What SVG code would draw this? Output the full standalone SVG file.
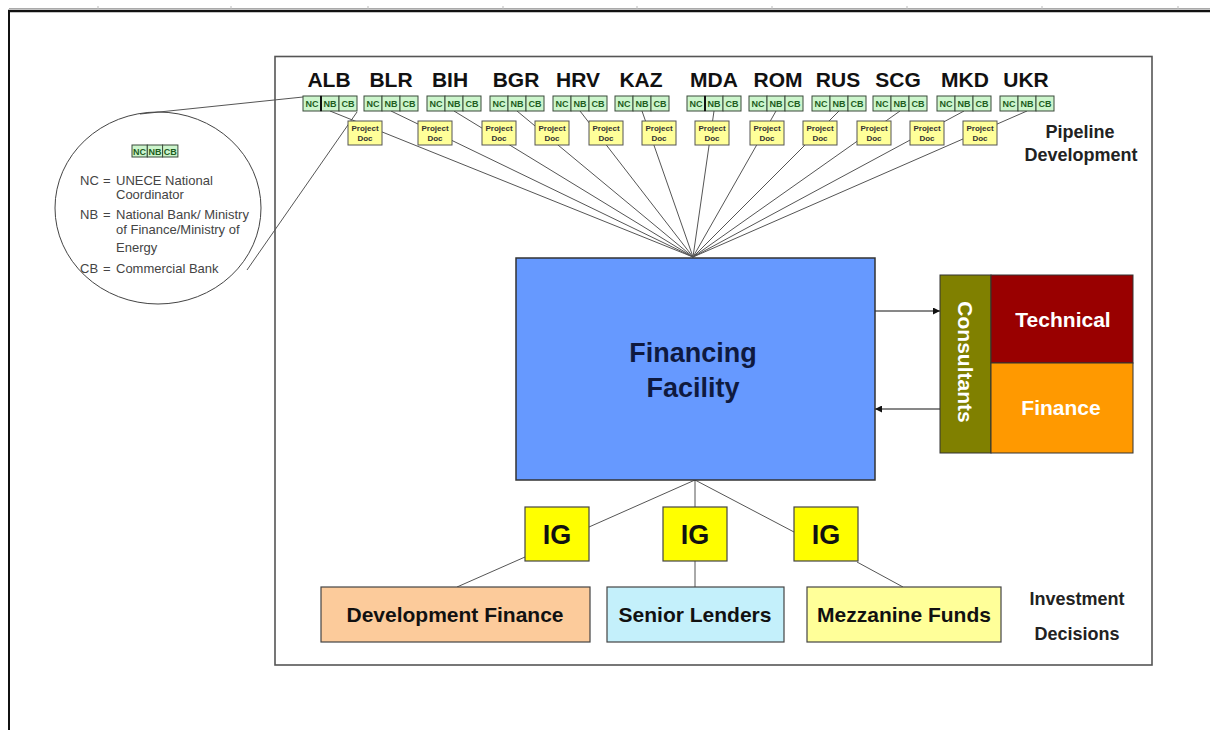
<svg xmlns="http://www.w3.org/2000/svg" width="1210" height="730" viewBox="0 0 1210 730">
<defs>
<marker id="ah" viewBox="0 0 10 10" refX="10" refY="5" markerWidth="7" markerHeight="7" orient="auto" markerUnits="userSpaceOnUse">
<path d="M0,0 L10,5 L0,10 z" fill="#111"/>
</marker>
<style>
text{font-family:"Liberation Sans",Arial,sans-serif}
.frame{fill:none;stroke:#555;stroke-width:1.6}
.ctry{font-size:21px;font-weight:bold;fill:#111;text-anchor:middle}
.cell{fill:#ccf5cc;stroke:#3a4a3a;stroke-width:1}
.ctxt{font-size:9px;fill:#1e5c1e;text-anchor:middle;font-weight:bold}
.doc{fill:#ffff99;stroke:#555;stroke-width:1}
.dtxt{font-size:8px;font-weight:bold;fill:#333;text-anchor:middle}
.fan{stroke:#555;stroke-width:1;fill:none}
.leg{font-size:13px;fill:#444}
.side{font-size:18px;font-weight:bold;fill:#222;text-anchor:middle}
.wt{font-size:21px;font-weight:bold;fill:#fff;text-anchor:middle}
.ig{fill:#ffff00;stroke:#444;stroke-width:1.2}
.igt{font-size:27px;font-weight:bold;fill:#111;text-anchor:middle}
.bx{stroke:#444;stroke-width:1.2}
.bt{font-size:21px;font-weight:bold;fill:#111;text-anchor:middle}
</style>
</defs>
<rect width="1210" height="730" fill="#fff"/>
<g id="page-border">
<line x1="9" y1="8.5" x2="1210" y2="8.5" stroke="#aaa" stroke-width="1"/>
<g stroke="#bbb" stroke-width="1"><line x1="98" y1="6" x2="98" y2="9"/><line x1="231" y1="6" x2="231" y2="9"/><line x1="368" y1="6" x2="368" y2="9"/><line x1="503" y1="6" x2="503" y2="9"/><line x1="637" y1="6" x2="637" y2="9"/><line x1="772" y1="6" x2="772" y2="9"/><line x1="907" y1="6" x2="907" y2="9"/><line x1="1042" y1="6" x2="1042" y2="9"/><line x1="1178" y1="6" x2="1178" y2="9"/></g>
<line x1="8" y1="11" x2="1210" y2="11" stroke="#111" stroke-width="2.5"/>
<line x1="9" y1="10" x2="9" y2="730" stroke="#111" stroke-width="2"/>
</g>
<rect class="frame" x="275" y="56.5" width="877" height="608.5"/>

<g id="connectors">
<g class="fan">
<line x1="330" y1="111" x2="693" y2="257"/>
<line x1="391" y1="111" x2="693" y2="257"/>
<line x1="454" y1="111" x2="693" y2="257"/>
<line x1="517" y1="111" x2="693" y2="257"/>
<line x1="580" y1="111" x2="693" y2="257"/>
<line x1="642" y1="111" x2="693" y2="257"/>
<line x1="714" y1="111" x2="693" y2="257"/>
<line x1="776" y1="111" x2="693" y2="257"/>
<line x1="839" y1="111" x2="693" y2="257"/>
<line x1="900" y1="111" x2="693" y2="257"/>
<line x1="964" y1="111" x2="693" y2="257"/>
<line x1="1027" y1="111" x2="693" y2="257"/>
<line x1="140" y1="114" x2="303" y2="97"/>
<line x1="247" y1="270" x2="357" y2="112"/>
<line x1="695" y1="480" x2="589" y2="527"/>
<line x1="695" y1="480" x2="695" y2="507"/>
<line x1="695" y1="480" x2="794" y2="532"/>
<line x1="525" y1="557" x2="457" y2="587"/>
<line x1="695" y1="561" x2="695" y2="587"/>
<line x1="857" y1="562" x2="903" y2="587"/>
</g>
<line x1="875" y1="311" x2="940" y2="311" stroke="#111" stroke-width="1" marker-end="url(#ah)"/>
<line x1="940" y1="409" x2="875" y2="409" stroke="#111" stroke-width="1" marker-end="url(#ah)"/>
</g>

<g id="legend-circle">
<ellipse cx="158" cy="208" rx="103" ry="96" fill="none" stroke="#444" stroke-width="1"/>
<rect class="cell" x="132" y="145" width="15.3" height="12"/>
<rect class="cell" x="147.3" y="145" width="15.3" height="12"/>
<rect class="cell" x="162.6" y="145" width="15.3" height="12"/>
<text class="ctxt" x="139.6" y="154.5" font-size="8px">NC</text>
<text class="ctxt" x="155" y="154.5" font-size="8px">NB</text>
<text class="ctxt" x="170.3" y="154.5" font-size="8px">CB</text>
<text class="leg" x="80" y="185">NC<tspan x="103">=</tspan><tspan x="116">UNECE National</tspan></text>
<text class="leg" x="116" y="199">Coordinator</text>
<text class="leg" x="80" y="219">NB<tspan x="103">=</tspan><tspan x="116">National Bank/ Ministry</tspan></text>
<text class="leg" x="116" y="234">of Finance/Ministry of</text>
<text class="leg" x="116" y="252">Energy</text>
<text class="leg" x="80" y="273">CB<tspan x="103">=</tspan><tspan x="116">Commercial Bank</tspan></text>
</g>

<g id="countries">
<text class="ctry" x="329" y="87">ALB</text>
<text class="ctry" x="391" y="87">BLR</text>
<text class="ctry" x="450" y="87">BIH</text>
<text class="ctry" x="516" y="87">BGR</text>
<text class="ctry" x="578" y="87">HRV</text>
<text class="ctry" x="641" y="87">KAZ</text>
<text class="ctry" x="714" y="87">MDA</text>
<text class="ctry" x="778" y="87">ROM</text>
<text class="ctry" x="838" y="87">RUS</text>
<text class="ctry" x="898" y="87">SCG</text>
<text class="ctry" x="965" y="87">MKD</text>
<text class="ctry" x="1026" y="87">UKR</text>
</g>

<g id="cells">
<g transform="translate(303,96)"><rect class="cell" width="18" height="15"/><rect class="cell" x="18" width="18" height="15"/><rect class="cell" x="36" width="18" height="15"/><line x1="18" y1="0" x2="18" y2="15" stroke="#111" stroke-width="2"/><text class="ctxt" x="9" y="11">NC</text><text class="ctxt" x="27" y="11">NB</text><text class="ctxt" x="45" y="11">CB</text></g>
<g transform="translate(364,96)"><rect class="cell" width="18" height="15"/><rect class="cell" x="18" width="18" height="15"/><rect class="cell" x="36" width="18" height="15"/><text class="ctxt" x="9" y="11">NC</text><text class="ctxt" x="27" y="11">NB</text><text class="ctxt" x="45" y="11">CB</text></g>
<g transform="translate(427,96)"><rect class="cell" width="18" height="15"/><rect class="cell" x="18" width="18" height="15"/><rect class="cell" x="36" width="18" height="15"/><text class="ctxt" x="9" y="11">NC</text><text class="ctxt" x="27" y="11">NB</text><text class="ctxt" x="45" y="11">CB</text></g>
<g transform="translate(490,96)"><rect class="cell" width="18" height="15"/><rect class="cell" x="18" width="18" height="15"/><rect class="cell" x="36" width="18" height="15"/><text class="ctxt" x="9" y="11">NC</text><text class="ctxt" x="27" y="11">NB</text><text class="ctxt" x="45" y="11">CB</text></g>
<g transform="translate(553,96)"><rect class="cell" width="18" height="15"/><rect class="cell" x="18" width="18" height="15"/><rect class="cell" x="36" width="18" height="15"/><text class="ctxt" x="9" y="11">NC</text><text class="ctxt" x="27" y="11">NB</text><text class="ctxt" x="45" y="11">CB</text></g>
<g transform="translate(615,96)"><rect class="cell" width="18" height="15"/><rect class="cell" x="18" width="18" height="15"/><rect class="cell" x="36" width="18" height="15"/><text class="ctxt" x="9" y="11">NC</text><text class="ctxt" x="27" y="11">NB</text><text class="ctxt" x="45" y="11">CB</text></g>
<g transform="translate(687,96)"><rect class="cell" width="18" height="15"/><rect class="cell" x="18" width="18" height="15"/><rect class="cell" x="36" width="18" height="15"/><line x1="18" y1="0" x2="18" y2="15" stroke="#111" stroke-width="2"/><text class="ctxt" x="9" y="11">NC</text><text class="ctxt" x="27" y="11">NB</text><text class="ctxt" x="45" y="11">CB</text></g>
<g transform="translate(749,96)"><rect class="cell" width="18" height="15"/><rect class="cell" x="18" width="18" height="15"/><rect class="cell" x="36" width="18" height="15"/><text class="ctxt" x="9" y="11">NC</text><text class="ctxt" x="27" y="11">NB</text><text class="ctxt" x="45" y="11">CB</text></g>
<g transform="translate(812,96)"><rect class="cell" width="18" height="15"/><rect class="cell" x="18" width="18" height="15"/><rect class="cell" x="36" width="18" height="15"/><text class="ctxt" x="9" y="11">NC</text><text class="ctxt" x="27" y="11">NB</text><text class="ctxt" x="45" y="11">CB</text></g>
<g transform="translate(873,96)"><rect class="cell" width="18" height="15"/><rect class="cell" x="18" width="18" height="15"/><rect class="cell" x="36" width="18" height="15"/><text class="ctxt" x="9" y="11">NC</text><text class="ctxt" x="27" y="11">NB</text><text class="ctxt" x="45" y="11">CB</text></g>
<g transform="translate(937,96)"><rect class="cell" width="18" height="15"/><rect class="cell" x="18" width="18" height="15"/><rect class="cell" x="36" width="18" height="15"/><text class="ctxt" x="9" y="11">NC</text><text class="ctxt" x="27" y="11">NB</text><text class="ctxt" x="45" y="11">CB</text></g>
<g transform="translate(1000,96)"><rect class="cell" width="18" height="15"/><rect class="cell" x="18" width="18" height="15"/><rect class="cell" x="36" width="18" height="15"/><text class="ctxt" x="9" y="11">NC</text><text class="ctxt" x="27" y="11">NB</text><text class="ctxt" x="45" y="11">CB</text></g>
</g>

<g id="project-docs">
<g transform="translate(348,121)"><rect class="doc" width="34" height="24"/><text class="dtxt" x="17" y="10">Project</text><text class="dtxt" x="17" y="20">Doc</text></g>
<g transform="translate(418,121)"><rect class="doc" width="34" height="24"/><text class="dtxt" x="17" y="10">Project</text><text class="dtxt" x="17" y="20">Doc</text></g>
<g transform="translate(482,121)"><rect class="doc" width="34" height="24"/><text class="dtxt" x="17" y="10">Project</text><text class="dtxt" x="17" y="20">Doc</text></g>
<g transform="translate(535,121)"><rect class="doc" width="34" height="24"/><text class="dtxt" x="17" y="10">Project</text><text class="dtxt" x="17" y="20">Doc</text></g>
<g transform="translate(589,121)"><rect class="doc" width="34" height="24"/><text class="dtxt" x="17" y="10">Project</text><text class="dtxt" x="17" y="20">Doc</text></g>
<g transform="translate(642,121)"><rect class="doc" width="34" height="24"/><text class="dtxt" x="17" y="10">Project</text><text class="dtxt" x="17" y="20">Doc</text></g>
<g transform="translate(695,121)"><rect class="doc" width="34" height="24"/><text class="dtxt" x="17" y="10">Project</text><text class="dtxt" x="17" y="20">Doc</text></g>
<g transform="translate(750,121)"><rect class="doc" width="34" height="24"/><text class="dtxt" x="17" y="10">Project</text><text class="dtxt" x="17" y="20">Doc</text></g>
<g transform="translate(803,121)"><rect class="doc" width="34" height="24"/><text class="dtxt" x="17" y="10">Project</text><text class="dtxt" x="17" y="20">Doc</text></g>
<g transform="translate(857,121)"><rect class="doc" width="34" height="24"/><text class="dtxt" x="17" y="10">Project</text><text class="dtxt" x="17" y="20">Doc</text></g>
<g transform="translate(910,121)"><rect class="doc" width="34" height="24"/><text class="dtxt" x="17" y="10">Project</text><text class="dtxt" x="17" y="20">Doc</text></g>
<g transform="translate(963,121)"><rect class="doc" width="34" height="24"/><text class="dtxt" x="17" y="10">Project</text><text class="dtxt" x="17" y="20">Doc</text></g>
</g>

<g id="pipeline-label">
<text class="side" x="1080" y="138">Pipeline</text>
<text class="side" x="1081" y="161">Development</text>
</g>

<g id="financing-facility">
<rect x="516" y="258" width="359" height="222" fill="#6699ff" stroke="#333" stroke-width="1.5"/>
<text x="693" y="362" font-size="27px" font-weight="bold" fill="#0f1a3f" text-anchor="middle">Financing</text>
<text x="693" y="397" font-size="27px" font-weight="bold" fill="#0f1a3f" text-anchor="middle">Facility</text>
</g>

<g id="consultants">
<rect x="940" y="275" width="51" height="178" fill="#808000" stroke="#333" stroke-width="1"/>
<text class="wt" font-size="20px" transform="translate(958,362) rotate(90)" x="0" y="0">Consultants</text>
</g>
<g id="technical">
<rect x="991" y="275" width="142" height="88" fill="#990000" stroke="#333" stroke-width="1"/>
<text class="wt" x="1063" y="327">Technical</text>
</g>
<g id="finance">
<rect x="991" y="363" width="142" height="90" fill="#ff9900" stroke="#333" stroke-width="1"/>
<text class="wt" x="1061" y="415">Finance</text>
</g>

<g id="ig-1"><rect class="ig" x="525" y="507" width="64" height="54"/><text class="igt" x="557" y="544">IG</text></g>
<g id="ig-2"><rect class="ig" x="663" y="507" width="64" height="54"/><text class="igt" x="695" y="544">IG</text></g>
<g id="ig-3"><rect class="ig" x="794" y="507" width="64" height="54"/><text class="igt" x="826" y="544">IG</text></g>

<g id="development-finance"><rect class="bx" x="321" y="587" width="269" height="55" fill="#fccb9b"/><text class="bt" x="455" y="622">Development Finance</text></g>
<g id="senior-lenders"><rect class="bx" x="607" y="587" width="177" height="55" fill="#c4f0fb"/><text class="bt" x="695" y="622">Senior Lenders</text></g>
<g id="mezzanine-funds"><rect class="bx" x="807" y="587" width="194" height="55" fill="#ffff99"/><text class="bt" x="904" y="622">Mezzanine Funds</text></g>

<g id="investment-label">
<text class="side" x="1077" y="605">Investment</text>
<text class="side" x="1077" y="640">Decisions</text>
</g>
</svg>
